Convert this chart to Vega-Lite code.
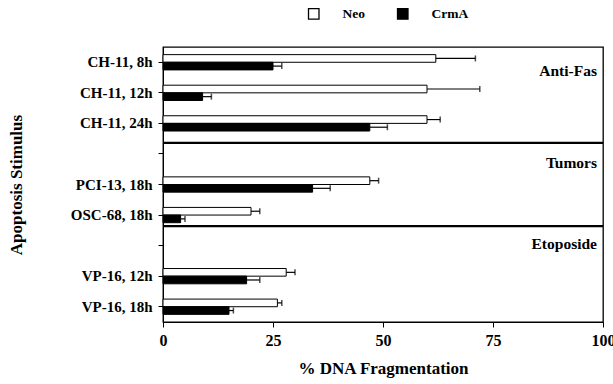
{
  "$schema": "https://vega.github.io/schema/vega-lite/v6.json",
  "width": 440,
  "height": 275,
  "autosize": {"type": "none"},
  "padding": {"left": 163, "top": 47, "right": 10, "bottom": 62},
  "background": "white",
  "config": {
    "view": {"stroke": "black", "strokeWidth": 1.3},
    "font": "Liberation Serif, Times New Roman, serif",
    "axis": {
      "domainColor": "black",
      "tickColor": "black",
      "labelColor": "black",
      "titleColor": "black",
      "labelFont": "Liberation Serif, Times New Roman, serif",
      "titleFont": "Liberation Serif, Times New Roman, serif",
      "labelFontWeight": "bold",
      "titleFontWeight": "bold",
      "grid": false
    }
  },
  "datasets": {
    "bars": [
      {"stim": "CH-11, 8h", "group": "Neo", "value": 62, "upper": 71},
      {"stim": "CH-11, 8h", "group": "CrmA", "value": 25, "upper": 27},
      {"stim": "CH-11, 12h", "group": "Neo", "value": 60, "upper": 72},
      {"stim": "CH-11, 12h", "group": "CrmA", "value": 9, "upper": 11},
      {"stim": "CH-11, 24h", "group": "Neo", "value": 60, "upper": 63},
      {"stim": "CH-11, 24h", "group": "CrmA", "value": 47, "upper": 51},
      {"stim": "PCI-13, 18h", "group": "Neo", "value": 47, "upper": 49},
      {"stim": "PCI-13, 18h", "group": "CrmA", "value": 34, "upper": 38},
      {"stim": "OSC-68, 18h", "group": "Neo", "value": 20, "upper": 22},
      {"stim": "OSC-68, 18h", "group": "CrmA", "value": 4, "upper": 5},
      {"stim": "VP-16, 12h", "group": "Neo", "value": 28, "upper": 30},
      {"stim": "VP-16, 12h", "group": "CrmA", "value": 19, "upper": 22},
      {"stim": "VP-16, 18h", "group": "Neo", "value": 26, "upper": 27},
      {"stim": "VP-16, 18h", "group": "CrmA", "value": 15, "upper": 16}
    ]
  },
  "encoding": {
    "y": {
      "field": "stim",
      "type": "nominal",
      "scale": {
        "type": "band",
        "domain": ["CH-11, 8h", "CH-11, 12h", "CH-11, 24h", "gap1", "PCI-13, 18h", "OSC-68, 18h", "gap2", "VP-16, 12h", "VP-16, 18h"],
        "paddingInner": 0,
        "paddingOuter": 0
      },
      "axis": {
        "title": "Apoptosis Stimulus",
        "titleFontSize": 17,
        "titlePadding": 45,
        "labelFontSize": 15,
        "tickSize": 5,
        "labelPadding": 6,
        "labelExpr": "indexof(datum.value, 'gap') == 0 ? '' : datum.value"
      }
    }
  },
  "layer": [
    {
      "data": {"name": "bars"},
      "mark": {"type": "bar", "stroke": "black", "strokeWidth": 1},
      "encoding": {
        "x": {
          "field": "value",
          "type": "quantitative",
          "scale": {"domain": [0, 100], "nice": false},
          "axis": {
            "values": [0, 25, 50, 75, 100],
            "title": "% DNA Fragmentation",
            "titleFontSize": 17,
            "titlePadding": 12,
            "labelFontSize": 16,
            "labelFlush": false,
            "tickSize": 5,
            "labelPadding": 5
          }
        },
        "yOffset": {
          "field": "group",
          "type": "nominal",
          "scale": {"domain": ["Neo", "CrmA"], "paddingOuter": 1.73, "paddingInner": 0}
        },
        "fill": {
          "field": "group",
          "type": "nominal",
          "scale": {"domain": ["Neo", "CrmA"], "range": ["white", "black"]},
          "legend": {
            "orient": "none",
            "legendX": 144,
            "legendY": -40,
            "direction": "horizontal",
            "title": null,
            "symbolType": "square",
            "symbolSize": 110,
            "symbolStrokeColor": "black",
            "symbolStrokeWidth": 1.3,
            "labelFont": "Liberation Serif, Times New Roman, serif",
            "labelFontWeight": "bold",
            "labelFontSize": 13.5,
            "labelColor": "black",
            "labelOffset": 22,
            "columnPadding": 29,
            "padding": 0
          }
        }
      }
    },
    {
      "data": {"name": "bars"},
      "mark": {"type": "rule", "color": "black", "strokeWidth": 1.2},
      "encoding": {
        "x": {"field": "value", "type": "quantitative"},
        "x2": {"field": "upper"},
        "yOffset": {"field": "group", "type": "nominal"}
      }
    },
    {
      "data": {"name": "bars"},
      "mark": {"type": "tick", "color": "black", "thickness": 1.5, "size": 6},
      "encoding": {
        "x": {"field": "upper", "type": "quantitative"},
        "yOffset": {"field": "group", "type": "nominal"}
      }
    },
    {
      "data": {"values": [{}]},
      "mark": {"type": "rule", "color": "black", "strokeWidth": 2.2},
      "encoding": {
        "x": {"datum": 0},
        "x2": {"datum": 100},
        "y": {"datum": "gap1", "bandPosition": 0.14}
      }
    },
    {
      "data": {"values": [{}]},
      "mark": {"type": "rule", "color": "black", "strokeWidth": 2.2},
      "encoding": {
        "x": {"datum": 0},
        "x2": {"datum": 100},
        "y": {"datum": "OSC-68, 18h", "bandPosition": 0.86}
      }
    },
    {
      "data": {"values": [{"label": "Anti-Fas", "stim": "CH-11, 8h"}, {"label": "Tumors", "stim": "gap1"}]},
      "mark": {"type": "text", "align": "right", "baseline": "middle", "dx": -6, "font": "Liberation Serif, Times New Roman, serif", "fontWeight": "bold", "fontSize": 15.5, "color": "black"},
      "encoding": {
        "x": {"datum": 100},
        "y": {"field": "stim", "type": "nominal", "bandPosition": 0.79},
        "text": {"field": "label"}
      }
    },
    {
      "data": {"values": [{"label": "Etoposide", "stim": "gap2"}]},
      "mark": {"type": "text", "align": "right", "baseline": "middle", "dx": -6, "font": "Liberation Serif, Times New Roman, serif", "fontWeight": "bold", "fontSize": 15.5, "color": "black"},
      "encoding": {
        "x": {"datum": 100},
        "y": {"field": "stim", "type": "nominal", "bandPosition": 0.45},
        "text": {"field": "label"}
      }
    }
  ]
}
